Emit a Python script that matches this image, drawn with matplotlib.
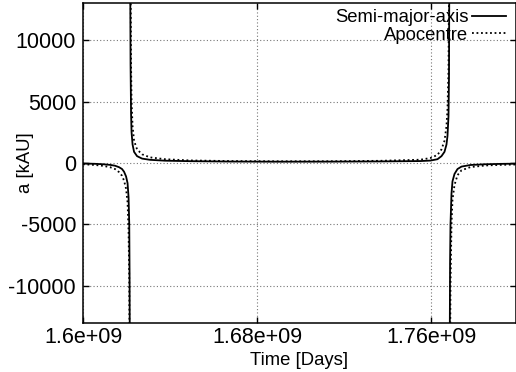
import numpy as np
import matplotlib.pyplot as plt

plt.rcParams['font.family'] = ['Liberation Sans', 'DejaVu Sans']
plt.rcParams['axes.unicode_minus'] = False

# time [days] for the three branches (poles near 1.6215e9 and 1.7683e9)
t_left = [1.60000e9, 1.60552e9, 1.60920e9, 1.61241e9, 1.61471e9, 1.61655e9, 1.61793e9,
          1.61885e9, 1.61977e9, 1.62046e9, 1.62092e9, 1.62124e9, 1.62138e9, 1.62147e9]
t_mid = [1.62170e9, 1.62184e9, 1.62207e9, 1.62230e9, 1.62276e9, 1.62345e9, 1.62483e9,
         1.62713e9, 1.63081e9, 1.63770e9, 1.64920e9, 1.66759e9, 1.69058e9, 1.71357e9,
         1.73656e9, 1.75495e9, 1.75955e9, 1.76277e9, 1.76461e9, 1.76599e9, 1.76691e9,
         1.76737e9, 1.76783e9, 1.76806e9, 1.76819e9]
t_right = [1.76842e9, 1.76856e9, 1.76875e9, 1.76921e9, 1.76967e9, 1.77059e9, 1.77197e9,
           1.77380e9, 1.77794e9, 1.78484e9, 1.79174e9, 1.79909e9]

# semi-major axis [kAU]
a_left = [-50, -75, -110, -160, -230, -350, -500, -720, -1100, -1650, -2800, -5000, -9000, -14000]
a_mid = [14000, 8000, 4000, 2500, 1500, 900, 550, 350, 250, 180, 140, 110, 100, 105,
         120, 150, 190, 300, 550, 900, 1500, 2200, 3800, 7000, 14000]
a_right = [-14000, -8000, -5000, -2500, -1500, -900, -500, -300, -170, -110, -80, -60]

# apocentre [kAU]
q_left = [-110, -170, -240, -350, -500, -750, -1050, -1450, -2100, -3200, -5500, -9500, -16000, -28000]
q_mid = [28000, 16000, 8000, 5000, 3000, 1800, 1100, 700, 450, 300, 200, 150, 130, 135,
         170, 260, 400, 650, 1100, 1800, 3000, 4400, 7600, 14000, 28000]
q_right = [-28000, -16000, -10000, -5000, -3000, -1800, -1000, -600, -340, -210, -160, -130]

xticks = [1.6e9, 1.68e9, 1.76e9]
xtick_labels = ['1.6e+09', '1.68e+09', '1.76e+09']
yticks = [-10000, -5000, 0, 5000, 10000]

def joined(*parts):
    out = []
    for p in parts:
        out.extend(p)
        out.append(np.nan)
    return np.array(out[:-1], dtype=float)

t = joined(t_left, t_mid, t_right)
a = joined(a_left, a_mid, a_right)
q = joined(q_left, q_mid, q_right)

fig = plt.figure(figsize=(5.16, 3.72), dpi=100)
ax = fig.add_axes([83 / 516, 1 - 322.5 / 372, 432.5 / 516, 319.2 / 372])

ax.plot(t, a, color='black', lw=1.3, label='Semi-major-axis')
ax.plot(t, q, color='black', lw=1.3, linestyle=(0, (1, 1.5)), label='Apocentre')

ax.set_xlim(1.6e9, 1.7986e9)
ax.set_ylim(-13000, 13000)
ax.set_xticks(xticks)
ax.set_xticklabels(xtick_labels)
ax.set_yticks(yticks)
ax.set_yticklabels([str(v) for v in yticks])

ax.grid(True, color='#777777', linestyle=(0, (1, 2)), lw=0.8)
ax.tick_params(direction='in', length=4, width=1, top=True, right=True,
               labelsize=15.5)
ax.tick_params(axis='y', pad=5)
ax.tick_params(axis='x', pad=3)
for s in ax.spines.values():
    s.set_linewidth(1.1)

ax.set_xlabel('Time [Days]', fontsize=13.3, labelpad=3)
ylab = ax.set_ylabel('a [kAU]', fontsize=13.3)
ylab.set_va('center')
ax.yaxis.set_label_coords(-0.132, 0.5)

ax.legend(loc='upper right', frameon=False, markerfirst=False, fontsize=13.3,
          handlelength=1.8, handletextpad=0.2, labelspacing=0.02,
          borderaxespad=0, borderpad=0,
          bbox_to_anchor=(1 - 10 / 432.5, 1 - 6 / 319.2))

fig.savefig('out.png', dpi=100)
